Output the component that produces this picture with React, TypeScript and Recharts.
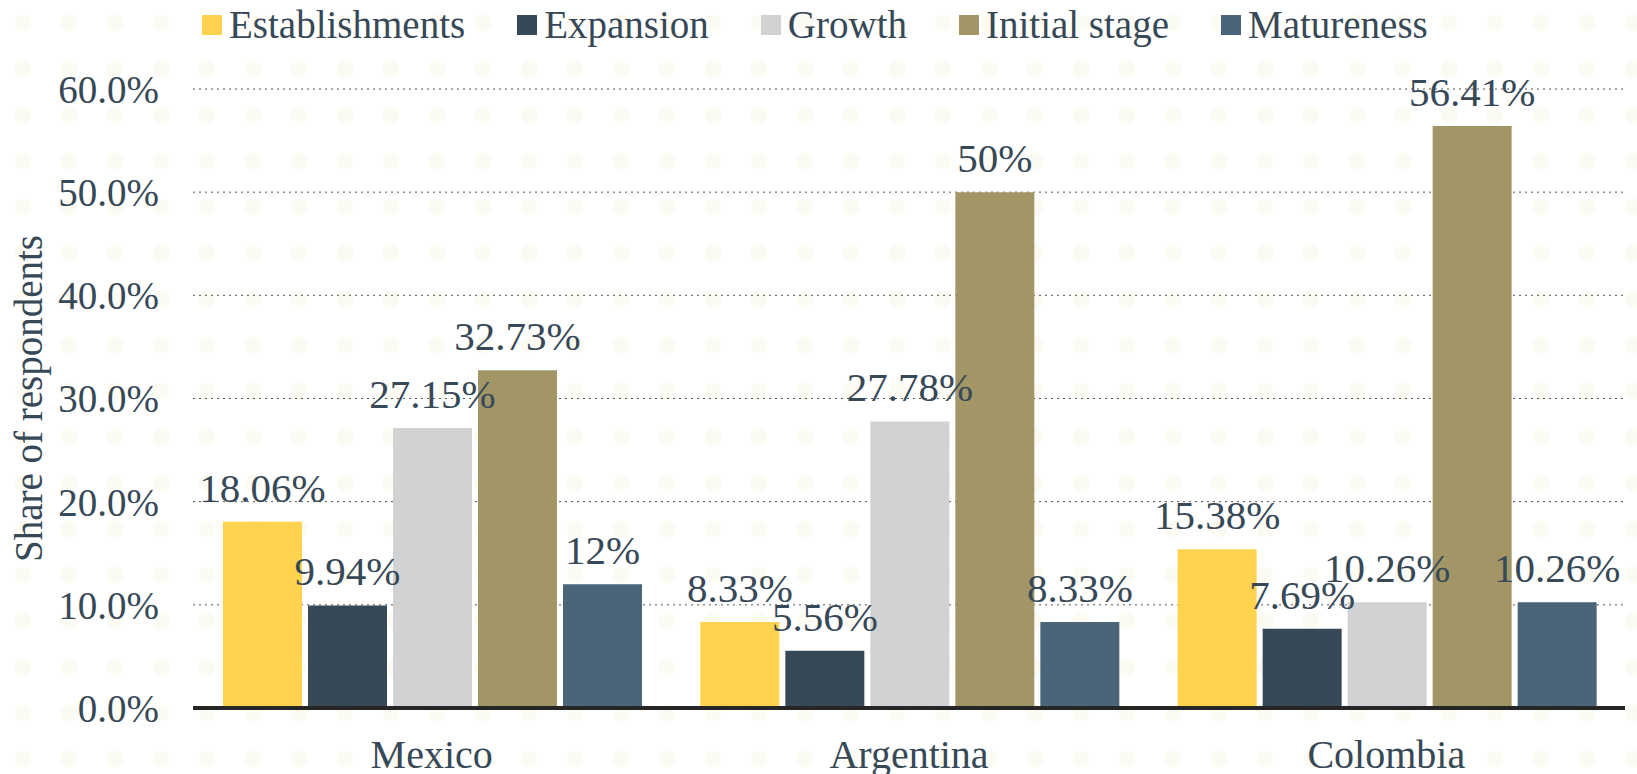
import React from 'react'
import { BarChart, Bar, XAxis, YAxis, CartesianGrid, LabelList, Label } from 'recharts'

const categories = ['Mexico', 'Argentina', 'Colombia']
const seriesNames = ['Establishments', 'Expansion', 'Growth', 'Initial stage', 'Matureness']
const establishments = [18.06, 8.33, 15.38]
const expansion = [9.94, 5.56, 7.69]
const growth = [27.15, 27.78, 10.26]
const initialStage = [32.73, 50, 56.41]
const matureness = [12, 8.33, 10.26]
const yTicks = [0, 10, 20, 30, 40, 50, 60]

const colors = ['#FFD34D', '#374857', '#D0D2D4', '#A29667', '#4A6479']
const textColor = '#374857'
const font = "'Liberation Serif', Tinos, 'Times New Roman', 'DejaVu Serif', serif"

const allSeries = [establishments, expansion, growth, initialStage, matureness]

const data = categories.map((name, i) => {
  const row: Record<string, string | number> = { name }
  seriesNames.forEach((s, k) => {
    row[s] = allSeries[k][i]
  })
  return row
})

// y axis title, rotated, centred on the plot height
const AxisTitle = (props: any) => {
  const vb = props.viewBox || { x: 0, y: 0, height: 0 }
  const cx = 28
  const cy = vb.y + vb.height / 2
  return (
    <text
      x={cx}
      y={cy}
      transform={`rotate(-90 ${cx} ${cy})`}
      textAnchor="middle"
      dominantBaseline="central"
      fill={textColor}
      fontSize={39}
      fontFamily={font}
    >
      Share of respondents
    </text>
  )
}

function Legend() {
  return (
    <div
      style={{
        position: 'absolute',
        top: 4,
        left: 202,
        display: 'flex',
        alignItems: 'center',
        gap: 52,
        fontFamily: font,
        fontSize: 39,
        lineHeight: '42px',
        color: textColor,
        whiteSpace: 'nowrap',
      }}
    >
      {seriesNames.map((s, k) => (
        <div key={s} style={{ display: 'flex', alignItems: 'center' }}>
          <span style={{ width: 20, height: 20, background: colors[k], marginRight: 7, display: 'inline-block' }} />
          <span>{s}</span>
        </div>
      ))}
    </div>
  )
}

export default function App() {
  return (
    <div
      style={{
        position: 'relative',
        width: 1637,
        height: 774,
        overflow: 'hidden',
        backgroundColor: '#fff',
        backgroundImage: 'radial-gradient(circle, rgba(245,242,215,0.3) 0 8px, transparent 9px)',
        backgroundSize: '46px 46px',
      }}
    >
      <style>{`body{margin:0}`}</style>
      <Legend />
      <BarChart
        width={1637}
        height={774}
        data={data}
        margin={{ top: 89, right: 12, left: 0, bottom: 0 }}
        barCategoryGap={30}
        barGap={6}
      >
        <CartesianGrid vertical={false} stroke="#555" strokeDasharray="2 4" />
        <XAxis
          dataKey="name"
          height={66}
          tickSize={0}
          tickMargin={32}
          tickLine={false}
          axisLine={{ stroke: '#262626', strokeWidth: 4 }}
          tick={{ fill: textColor, fontSize: 40, fontFamily: font }}
        />
        <YAxis
          width={193}
          domain={[0, 60]}
          ticks={yTicks}
          tickFormatter={(v: number) => `${v.toFixed(1)}%`}
          axisLine={false}
          tickLine={false}
          tickSize={0}
          tickMargin={34}
          tick={{ fill: textColor, fontSize: 39, fontFamily: font }}
        >
          <Label content={AxisTitle} />
        </YAxis>
        {seriesNames.map((s, k) => (
          <Bar key={s} dataKey={s} fill={colors[k]} isAnimationActive={false}>
            <LabelList
              dataKey={s}
              position="top"
              offset={20}
              formatter={(v: any) => `${v}%`}
              style={{ fill: textColor, fontSize: 41, fontFamily: font }}
            />
          </Bar>
        ))}
      </BarChart>
    </div>
  )
}
